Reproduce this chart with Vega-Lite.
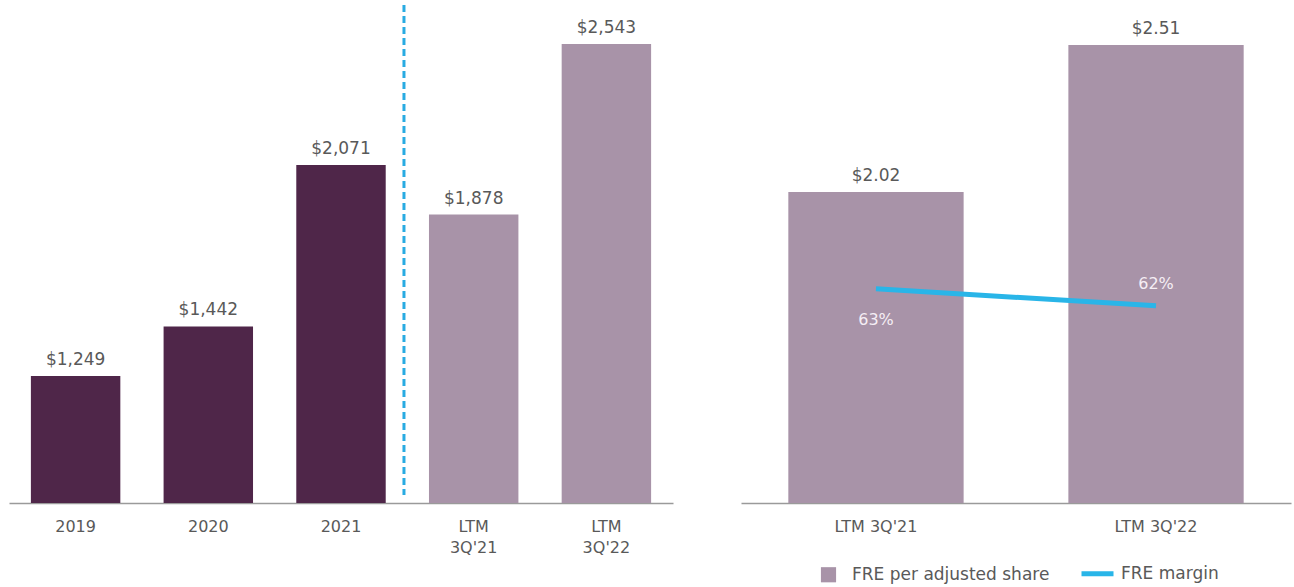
{
  "$schema": "https://vega.github.io/schema/vega-lite/v6.json",
  "padding": {"left": 9, "top": 3, "right": 3, "bottom": 0},
  "config": {
    "view": {"stroke": null},
    "font": "DejaVu Sans",
    "axis": {
      "domainColor": "#9a9a9a",
      "domainWidth": 1.5,
      "ticks": false,
      "grid": false,
      "labelFontSize": 16,
      "labelColor": "#595959",
      "labelPadding": 15,
      "labelAngle": 0,
      "labelLineHeight": 21,
      "title": null
    }
  },
  "spacing": 68,
  "hconcat": [
    {
      "width": 664,
      "height": 498,
      "data": {
        "values": [
          {"period": "2019", "fre": 1249, "basis": "Annual"},
          {"period": "2020", "fre": 1442, "basis": "Annual"},
          {"period": "2021", "fre": 2071, "basis": "Annual"},
          {"period": "LTM 3Q'21", "fre": 1878, "basis": "LTM"},
          {"period": "LTM 3Q'22", "fre": 2543, "basis": "LTM"}
        ]
      },
      "encoding": {
        "x": {
          "field": "period",
          "type": "nominal",
          "sort": null,
          "scale": {"paddingInner": 0.326, "paddingOuter": 0.165},
          "axis": {
            "labelExpr": "indexof(datum.label, 'LTM') == 0 ? ['LTM', substring(datum.label, 4)] : datum.label"
          }
        }
      },
      "layer": [
        {
          "mark": {"type": "bar"},
          "encoding": {
            "y": {
              "field": "fre",
              "type": "quantitative",
              "scale": {"domain": [754, 2695], "zero": false, "nice": false},
              "axis": null
            },
            "y2": {"datum": 754},
            "color": {
              "field": "basis",
              "type": "nominal",
              "scale": {"domain": ["Annual", "LTM"], "range": ["#4f2649", "#a893a8"]},
              "legend": null
            }
          }
        },
        {
          "mark": {"type": "text", "dy": -16, "fontSize": 17, "color": "#595959"},
          "encoding": {
            "y": {"field": "fre", "type": "quantitative"},
            "text": {"field": "fre", "type": "quantitative", "format": "$,"}
          }
        },
        {
          "data": {"values": [{"split": "LTM 3Q'21"}]},
          "mark": {"type": "rule", "strokeDash": [7, 4], "strokeWidth": 3, "color": "#29abe2", "xOffset": -25},
          "encoding": {
            "x": {"field": "split", "type": "nominal", "bandPosition": 0},
            "y": {"datum": 2695},
            "y2": {"datum": 785}
          }
        }
      ]
    },
    {
      "width": 550,
      "height": 498,
      "data": {
        "values": [
          {"period": "LTM 3Q'21", "per_share": 2.02, "margin": 0.63},
          {"period": "LTM 3Q'22", "per_share": 2.51, "margin": 0.62}
        ]
      },
      "encoding": {
        "x": {
          "field": "period",
          "type": "nominal",
          "sort": null,
          "scale": {"paddingInner": 0.374, "paddingOuter": 0.169}
        }
      },
      "layer": [
        {
          "layer": [
            {
              "mark": {"type": "bar"},
              "encoding": {
                "y": {
                  "field": "per_share",
                  "type": "quantitative",
                  "scale": {"domain": [0.983, 2.643], "zero": false, "nice": false},
                  "axis": null
                },
                "y2": {"datum": 0.983},
                "color": {
                  "datum": "FRE per adjusted share",
                  "scale": {
                    "domain": ["FRE per adjusted share", "FRE margin"],
                    "range": ["#a893a8", "#29b5e8"]
                  },
                  "legend": {
                    "orient": "none",
                    "legendX": 79,
                    "legendY": 560,
                    "direction": "horizontal",
                    "title": null,
                    "labelFontSize": 17,
                    "labelColor": "#595959",
                    "labelLimit": 400,
                    "symbolSize": 230,
                    "columnPadding": 21,
                    "labelOffset": 15,
                    "encode": {
                      "symbols": {
                        "update": {
                          "shape": {"signal": "datum.value === 'FRE margin' ? 'stroke' : 'square'"},
                          "size": {"signal": "datum.value === 'FRE margin' ? 1024 : 230"},
                          "strokeWidth": {"signal": "datum.value === 'FRE margin' ? 5 : 0"},
                          "fill": {"signal": "datum.value === 'FRE margin' ? 'transparent' : '#a893a8'"},
                          "stroke": {"signal": "datum.value === 'FRE margin' ? '#29b5e8' : 'transparent'"},
                          "opacity": {"value": 1}
                        }
                      }
                    }
                  }
                }
              }
            },
            {
              "mark": {"type": "text", "dy": -16, "fontSize": 17, "color": "#595959"},
              "encoding": {
                "y": {"field": "per_share", "type": "quantitative"},
                "text": {"field": "per_share", "type": "quantitative", "format": "$.2f"}
              }
            }
          ]
        },
        {
          "layer": [
            {
              "mark": {"type": "line", "strokeWidth": 5},
              "encoding": {
                "y": {
                  "field": "margin",
                  "type": "quantitative",
                  "scale": {"domain": [0.504, 0.797], "zero": false, "nice": false},
                  "axis": null
                },
                "color": {"datum": "FRE margin"}
              }
            },
            {
              "transform": [{"filter": "datum.margin == 0.63"}],
              "mark": {"type": "text", "dy": 31, "fontSize": 16, "color": "#f5eef5"},
              "encoding": {
                "y": {"field": "margin", "type": "quantitative"},
                "text": {"field": "margin", "type": "quantitative", "format": ".0%"}
              }
            },
            {
              "transform": [{"filter": "datum.margin == 0.62"}],
              "mark": {"type": "text", "dy": -22, "fontSize": 16, "color": "#f5eef5"},
              "encoding": {
                "y": {"field": "margin", "type": "quantitative"},
                "text": {"field": "margin", "type": "quantitative", "format": ".0%"}
              }
            }
          ]
        }
      ],
      "resolve": {"scale": {"y": "independent"}}
    }
  ],
  "resolve": {"scale": {"color": "independent"}, "legend": {"color": "independent"}}
}
